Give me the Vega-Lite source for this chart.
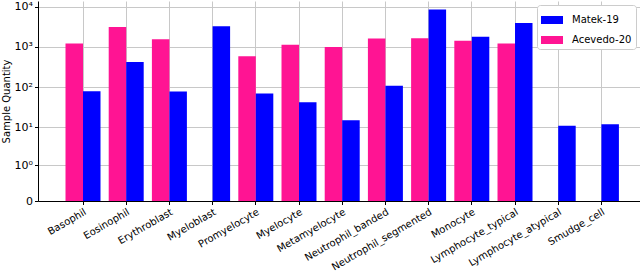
{
  "$schema": "https://vega.github.io/schema/vega-lite/v6.json",
  "width": 602,
  "height": 200,
  "autosize": {"type": "none"},
  "padding": {"left": 38, "top": 1, "right": 0, "bottom": 74},
  "config": {
    "font": "DejaVu Sans",
    "view": {"stroke": null},
    "axis": {
      "labelFontSize": 10,
      "labelColor": "#000000",
      "tickColor": "#000000",
      "domainColor": "#000000",
      "domainWidth": 1,
      "tickSize": 3.5,
      "tickWidth": 1,
      "titleFontSize": 10,
      "titleFontWeight": "normal",
      "titleColor": "#000000",
      "gridColor": "#c8c8c8",
      "gridWidth": 1
    }
  },
  "data": {
    "values": [
      {"cell": "Basophil", "dataset": "Acevedo-20", "count": 1218},
      {"cell": "Eosinophil", "dataset": "Acevedo-20", "count": 3117},
      {"cell": "Erythroblast", "dataset": "Acevedo-20", "count": 1551},
      {"cell": "Promyelocyte", "dataset": "Acevedo-20", "count": 592},
      {"cell": "Myelocyte", "dataset": "Acevedo-20", "count": 1137},
      {"cell": "Metamyelocyte", "dataset": "Acevedo-20", "count": 1000},
      {"cell": "Neutrophil_banded", "dataset": "Acevedo-20", "count": 1633},
      {"cell": "Neutrophil_segmented", "dataset": "Acevedo-20", "count": 1646},
      {"cell": "Monocyte", "dataset": "Acevedo-20", "count": 1420},
      {"cell": "Lymphocyte_typical", "dataset": "Acevedo-20", "count": 1214},
      {"cell": "Basophil", "dataset": "Matek-19", "count": 79},
      {"cell": "Eosinophil", "dataset": "Matek-19", "count": 424},
      {"cell": "Erythroblast", "dataset": "Matek-19", "count": 78},
      {"cell": "Myeloblast", "dataset": "Matek-19", "count": 3268},
      {"cell": "Promyelocyte", "dataset": "Matek-19", "count": 70},
      {"cell": "Myelocyte", "dataset": "Matek-19", "count": 42},
      {"cell": "Metamyelocyte", "dataset": "Matek-19", "count": 15},
      {"cell": "Neutrophil_banded", "dataset": "Matek-19", "count": 109},
      {"cell": "Neutrophil_segmented", "dataset": "Matek-19", "count": 8484},
      {"cell": "Monocyte", "dataset": "Matek-19", "count": 1789},
      {"cell": "Lymphocyte_typical", "dataset": "Matek-19", "count": 3937},
      {"cell": "Lymphocyte_atypical", "dataset": "Matek-19", "count": 11},
      {"cell": "Smudge_cell", "dataset": "Matek-19", "count": 12}
    ]
  },
  "mark": {"type": "bar"},
  "encoding": {
    "x": {
      "field": "cell",
      "type": "nominal",
      "sort": ["Basophil", "Eosinophil", "Erythroblast", "Myeloblast", "Promyelocyte", "Myelocyte", "Metamyelocyte", "Neutrophil_banded", "Neutrophil_segmented", "Monocyte", "Lymphocyte_typical", "Lymphocyte_atypical", "Smudge_cell"],
      "scale": {"paddingInner": 0.19, "paddingOuter": 0.5625, "align": 0.566},
      "axis": {
        "title": null,
        "labelAngle": -30,
        "labelAlign": "right",
        "labelBaseline": "top",
        "labelPadding": 2,
        "grid": true,
        "bandPosition": 0.5
      }
    },
    "xOffset": {
      "field": "dataset",
      "type": "nominal",
      "scale": {"domain": ["Acevedo-20", "Matek-19"]}
    },
    "y": {
      "field": "count",
      "type": "quantitative",
      "scale": {"type": "symlog", "constant": 0.15, "domain": [0, 13850], "nice": false},
      "axis": {
        "title": "Sample Quantity",
        "values": [0, 1, 10, 100, 1000, 10000],
        "labelExpr": "datum.value == 0 ? '0' : datum.value == 1 ? '10⁰' : datum.value == 10 ? '10¹' : datum.value == 100 ? '10²' : datum.value == 1000 ? '10³' : '10⁴'",
        "labelFontSize": 11,
        "labelPadding": 2,
        "titlePadding": 3,
        "grid": true
      }
    },
    "color": {
      "field": "dataset",
      "type": "nominal",
      "scale": {"domain": ["Matek-19", "Acevedo-20"], "range": ["#0000ff", "#ff1493"]},
      "legend": {
        "title": null,
        "orient": "none",
        "legendX": 499,
        "legendY": 4,
        "direction": "vertical",
        "padding": 4,
        "strokeColor": "#cccccc",
        "fillColor": "#ffffff",
        "cornerRadius": 3,
        "symbolType": "M-1,-0.364H1V0.364H-1Z",
        "symbolSize": 484,
        "symbolStrokeWidth": 0,
        "symbolOpacity": 1,
        "labelFontSize": 10,
        "labelColor": "#000000",
        "labelOffset": 9,
        "rowPadding": 4
      }
    }
  }
}
